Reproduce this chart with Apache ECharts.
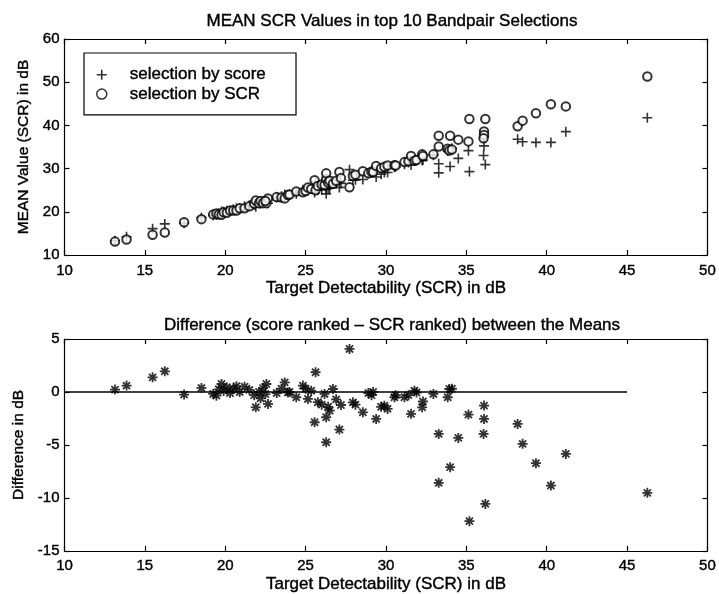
<!DOCTYPE html>
<html>
<head>
<meta charset="utf-8">
<script src="https://cdn.jsdelivr.net/npm/echarts@6/dist/echarts.min.js"></script>
<style>html,body{margin:0;padding:0;background:#fff}#c{width:719px;height:594px}</style>
</head>
<body>
<div id="c"></div>
<script>
// Target Detectability (SCR) in dB for each case
const xVals = [13.14,13.86,15.48,16.24,17.44,18.52,19.25,19.45,19.6,19.77,19.9,20.1,20.3,20.5,20.7,20.9,21.2,21.5,21.8,21.9,22.1,22.2,22.35,22.56,22.66,22.5,23.2,23.5,23.7,23.9,24.0,24.42,24.83,25.0,25.14,25.35,25.56,25.62,25.76,26.0,26.18,26.28,26.28,26.4,26.5,26.7,26.9,27.1,27.2,27.73,27.94,28.1,28.56,28.9,29.1,29.2,29.39,29.7,29.9,30.1,30.53,30.6,31.15,31.4,31.56,31.77,31.9,32.25,32.3,32.95,33.28,33.28,33.84,33.94,34.1,33.99,34.5,35.13,35.19,36.1,36.1,36.07,36.18,38.19,38.5,39.33,40.26,41.19,46.26];
// MEAN value, selection by score
const scoreMean = [13.3,14.2,16.1,17.2,17.35,18.7,19.2,19.25,19.65,20.05,20.0,20.25,20.2,20.6,20.85,20.8,21.3,21.5,21.6,21.15,22.0,21.9,22.35,22.75,21.97,22.3,23.3,23.6,24.0,23.85,24.0,24.2,25.1,25.1,24.94,25.42,24.44,26.86,25.03,25.1,26.01,25.21,24.15,25.4,25.44,26.78,26.5,25.65,26.57,29.76,27.32,27.4,27.48,28.8,29.0,29.2,28.05,28.7,29.1,29.1,30.3,30.4,31.0,31.4,30.83,31.92,31.95,31.85,32.0,33.11,31.14,29.02,34.1,34.48,34.7,30.5,32.36,34.16,29.3,37.31,35.25,33.04,30.93,36.78,36.2,36.07,36.06,38.55,41.77];
// MEAN value, selection by SCR
const scrMean = [13.1,13.6,14.7,15.2,17.6,18.3,19.4,19.6,19.4,19.3,19.9,19.8,20.3,20.3,20.3,20.8,20.8,21.3,21.9,22.6,22.0,22.5,22.0,22.0,23.1,22.5,23.4,23.3,23.1,23.9,24.0,24.7,24.5,24.8,25.6,25.3,27.3,25.0,26.0,26.3,26.2,27.6,28.9,26.8,27.2,26.5,27.2,29.2,27.8,25.7,28.3,28.6,29.4,28.9,29.3,29.2,30.6,30.1,30.4,30.7,30.8,30.7,31.5,31.7,32.9,31.8,32.0,33.3,32.9,33.3,35.1,37.6,34.6,34.2,34.4,37.6,36.7,36.3,41.5,38.6,37.8,37.0,41.5,39.8,41.1,42.8,44.9,44.4,51.3];
// Difference (score ranked - SCR ranked) in dB
const diffVals = [0.22,0.6,1.38,1.95,-0.25,0.38,-0.19,-0.35,0.25,0.75,0.1,0.45,-0.1,0.3,0.55,0.0,0.5,0.2,-0.3,-1.45,0.0,-0.6,0.35,0.75,-1.13,-0.2,-0.1,0.3,0.9,-0.05,0.0,-0.5,0.6,0.3,-0.66,0.12,-2.86,1.86,-0.97,-1.2,-0.19,-2.39,-4.75,-1.4,-1.76,0.28,-0.7,-3.55,-1.23,4.06,-0.98,-1.2,-1.92,-0.1,-0.3,0.0,-2.55,-1.4,-1.3,-1.6,-0.5,-0.3,-0.5,-0.3,-2.07,0.12,-0.05,-1.45,-0.9,-0.19,-3.96,-8.58,-0.5,0.28,0.3,-7.1,-4.34,-2.14,-12.2,-1.29,-2.55,-3.96,-10.57,-3.02,-4.9,-6.73,-8.84,-5.85,-9.53];
// zero reference line extent
const zeroLineX = [10, 45];
const zeroLineY = [0, 0];

const xTicks = {min: 10, max: 50, interval: 5};
const yTopTicks = {min: 10, max: 60, interval: 10};
const yBotTicks = {min: -15, max: 5, interval: 5};

const FONT = '"Liberation Sans", Arial, Helvetica, sans-serif';
const STROKE = {textBorderColor: '#000', textBorderWidth: 0.4};
const plusPath = 'path://M4.2,0 L5.8,0 L5.8,4.2 L10,4.2 L10,5.8 L5.8,5.8 L5.8,10 L4.2,10 L4.2,5.8 L0,5.8 L0,4.2 L4.2,4.2 Z';
const starPath = 'path://M0,4.1 L10,4.1 L10,5.9 L0,5.9 Z M4.1,0 L5.9,0 L5.9,10 L4.1,10 Z M2.1,0.8 L9.2,7.9 L7.9,9.2 L0.8,2.1 Z M7.9,0.8 L9.2,2.1 L2.1,9.2 L0.8,7.9 Z';

function zip(a, b) { return a.map((v, i) => [v, b[i]]); }

const chart = echarts.init(document.getElementById('c'), null, {renderer: 'canvas'});

function xAxisDef(gridIndex, pos, showLabel, name) {
  return {
    type: 'value', gridIndex: gridIndex, position: pos,
    min: xTicks.min, max: xTicks.max, interval: xTicks.interval,
    axisLine: {show: true, onZero: false, lineStyle: {color: '#000', width: 1.2}},
    axisTick: {show: true, inside: true, length: 5, lineStyle: {color: '#000', width: 1.2}},
    axisLabel: Object.assign({show: showLabel, color: '#000', fontSize: 15, fontFamily: FONT, margin: 8}, STROKE),
    splitLine: {show: false},
    name: name, nameLocation: 'middle', nameGap: 25,
    nameTextStyle: Object.assign({color: '#000', fontSize: 17, fontFamily: FONT}, STROKE)
  };
}
function yAxisDef(gridIndex, pos, showLabel, ticks, name, gap) {
  return {
    type: 'value', gridIndex: gridIndex, position: pos,
    min: ticks.min, max: ticks.max, interval: ticks.interval,
    axisLine: {show: true, onZero: false, lineStyle: {color: '#000', width: 1.2}},
    axisTick: {show: true, inside: true, length: 5, lineStyle: {color: '#000', width: 1.2}},
    axisLabel: Object.assign({show: showLabel, color: '#000', fontSize: 15, fontFamily: FONT, margin: 5}, STROKE),
    splitLine: {show: false},
    name: name, nameLocation: 'middle', nameGap: gap,
    nameTextStyle: Object.assign({color: '#000', fontSize: 15.5, fontFamily: FONT}, STROKE)
  };
}

const option = {
  animation: false,
  backgroundColor: '#fff',
  title: [
    {text: 'MEAN SCR Values in top 10 Bandpair Selections', left: 387, top: 8, textAlign: 'center',
     textStyle: Object.assign({fontSize: 17, fontWeight: 'normal', color: '#000', fontFamily: FONT}, STROKE)},
    {text: 'Difference (score ranked \u2013 SCR ranked) between the Means', left: 387, top: 312, textAlign: 'center',
     textStyle: Object.assign({fontSize: 17, fontWeight: 'normal', color: '#000', fontFamily: FONT}, STROKE)}
  ],
  legend: {
    left: 84, top: 53, orient: 'vertical',
    backgroundColor: '#fff', borderColor: '#000', borderWidth: 1.2,
    padding: [13, 30, 12, 12], itemGap: 2, itemWidth: 10, itemHeight: 10,
    textStyle: Object.assign({color: '#000', fontSize: 17, fontFamily: FONT, padding: [0, 0, 0, 18]}, STROKE),
    data: [
      {name: 'selection by score', icon: plusPath, itemStyle: {color: '#000'}},
      {name: 'selection by SCR', icon: 'circle', itemStyle: {color: '#fff', borderColor: '#000', borderWidth: 1.5}}
    ]
  },
  grid: [
    {left: 64.5, right: 10.5, top: 39, height: 216, show: false},
    {left: 64.5, right: 10.5, top: 339, height: 212, show: false}
  ],
  xAxis: [
    xAxisDef(0, 'bottom', true, 'Target Detectability (SCR) in dB'),
    xAxisDef(0, 'top', false, ''),
    xAxisDef(1, 'bottom', true, 'Target Detectability (SCR) in dB'),
    xAxisDef(1, 'top', false, '')
  ],
  yAxis: [
    yAxisDef(0, 'left', true, yTopTicks, 'MEAN Value (SCR) in dB', 25),
    yAxisDef(0, 'right', false, yTopTicks, '', 0),
    yAxisDef(1, 'left', true, yBotTicks, 'Difference in dB', 36),
    yAxisDef(1, 'right', false, yBotTicks, '', 0)
  ],
  series: [
    {name: 'selection by score', type: 'scatter', xAxisIndex: 0, yAxisIndex: 0,
     data: zip(xVals, scoreMean), symbol: plusPath, symbolSize: 10,
     itemStyle: {color: '#000'}},
    {name: 'selection by SCR', type: 'scatter', xAxisIndex: 0, yAxisIndex: 0,
     data: zip(xVals, scrMean), symbol: 'emptyCircle', symbolSize: 8.5,
     itemStyle: {color: '#000', borderColor: '#000', borderWidth: 1.6}},
    {name: 'zero', type: 'line', xAxisIndex: 2, yAxisIndex: 2,
     data: zip(zeroLineX, zeroLineY), symbol: 'none',
     lineStyle: {color: '#000', width: 1.6}},
    {name: 'difference', type: 'scatter', xAxisIndex: 2, yAxisIndex: 2,
     data: zip(xVals, diffVals), symbol: starPath, symbolSize: 10,
     itemStyle: {color: '#000'}}
  ]
};
chart.setOption(option);
</script>
</body>
</html>
